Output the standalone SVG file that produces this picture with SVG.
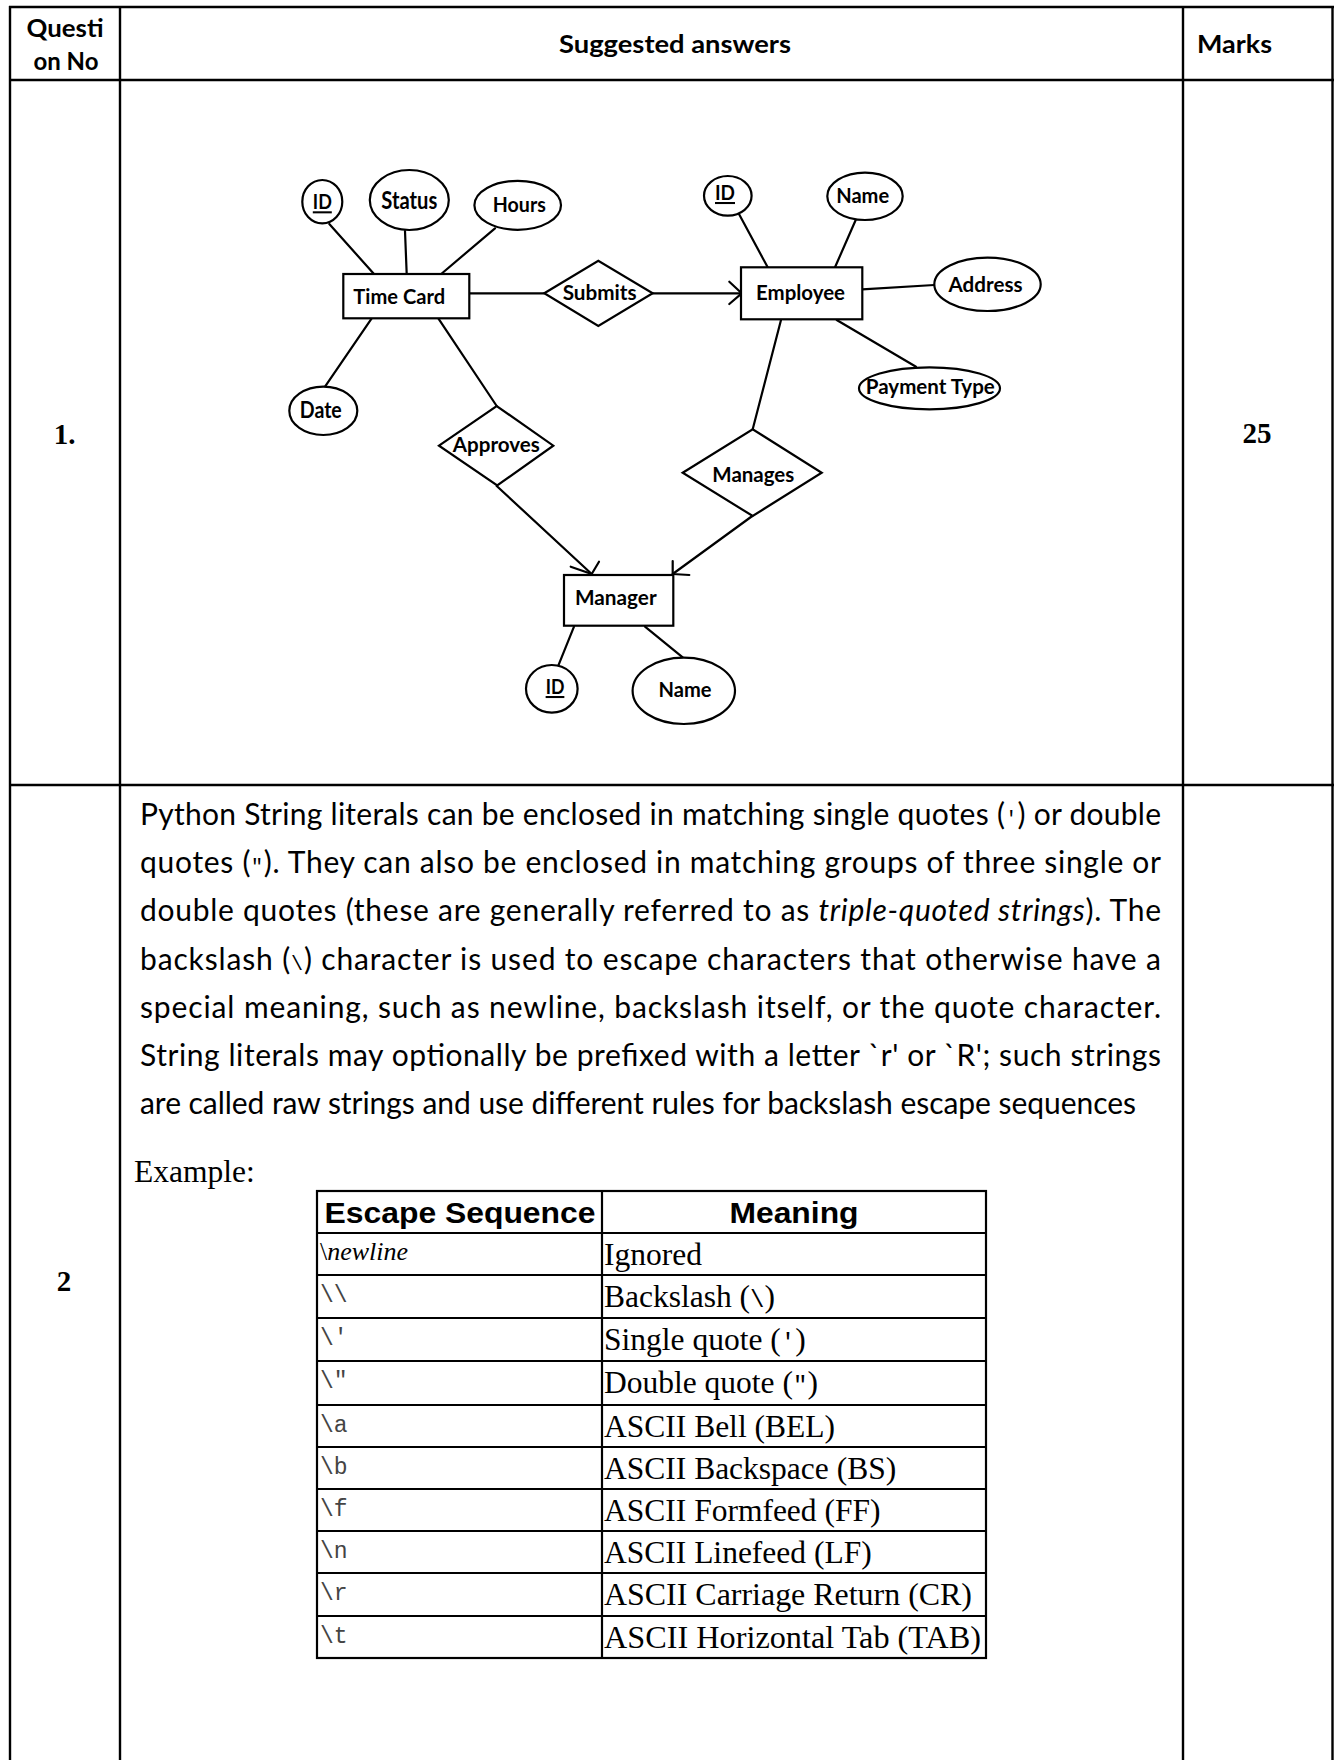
<svg xmlns="http://www.w3.org/2000/svg" width="1334" height="1760" viewBox="0 0 1334 1760">
<style>
.grid{stroke:#000;stroke-width:2.4;fill:none}
.hdr{font-family:Lato,"Open Sans","Liberation Sans",sans-serif;font-weight:700;font-size:24.5px;fill:#000}
.num{font-family:"Liberation Serif","Times New Roman",serif;font-weight:700;font-size:29px;fill:#000;text-anchor:middle}
.shape{fill:#fff;stroke:#000;stroke-width:2.2}
.lbl{font-family:Lato,"Open Sans","Liberation Sans",sans-serif;font-weight:700;font-size:20.5px;fill:#000;text-anchor:middle}
.conn{stroke:#000;stroke-width:2.2;fill:none;stroke-linecap:round;stroke-linejoin:round}
.para{font-family:Lato,"Open Sans","Liberation Sans",sans-serif;font-size:30px;fill:#000}
.q{font-family:"Liberation Mono",monospace;font-size:20px}
.tb{font-family:"Liberation Serif","Times New Roman",serif;font-size:31.5px;fill:#000}
.th{font-family:"Liberation Sans",Arial,sans-serif;font-weight:700;font-size:30px;fill:#000}
.mono{font-family:"Liberation Mono","Courier New",monospace;font-size:23px;fill:#444}
.tl{stroke:#000;stroke-width:2.2;fill:none}
</style>
<rect x="0" y="0" width="1334" height="1760" fill="#fff"/>

<g id="page-grid" class="grid">
  <line x1="9" y1="7" x2="1334" y2="7"/>
  <line x1="9" y1="80" x2="1334" y2="80"/>
  <line x1="9" y1="785" x2="1334" y2="785"/>
  <line x1="10" y1="6" x2="10" y2="1760"/>
  <line x1="120" y1="6" x2="120" y2="1760"/>
  <line x1="1183" y1="6" x2="1183" y2="1760"/>
  <line x1="1332.5" y1="6" x2="1332.5" y2="1760"/>
</g>

<g id="headers">
  <text class="hdr" x="65" y="37" text-anchor="middle" textLength="77" lengthAdjust="spacingAndGlyphs">Questi</text>
  <text class="hdr" x="66" y="70" text-anchor="middle" textLength="65" lengthAdjust="spacingAndGlyphs">on No</text>
  <text class="hdr" x="675" y="53" text-anchor="middle" textLength="232" lengthAdjust="spacingAndGlyphs">Suggested answers</text>
  <text class="hdr" x="1197" y="53" textLength="75" lengthAdjust="spacingAndGlyphs">Marks</text>
  <text class="num" x="64.5" y="444">1.</text>
  <text class="num" x="1257" y="443">25</text>
  <text class="num" x="64" y="1291">2</text>
</g>

<g id="connectors">
  <line class="conn" x1="329.3" y1="224" x2="374" y2="274"/>
  <line class="conn" x1="405" y1="231" x2="406.7" y2="274"/>
  <line class="conn" x1="495" y1="228.3" x2="440" y2="275"/>
  <line class="conn" x1="371.7" y1="318.3" x2="325" y2="386.7"/>
  <line class="conn" x1="469.3" y1="293.3" x2="544.3" y2="293.3"/>
  <line class="conn" x1="652.7" y1="293.3" x2="741.7" y2="293.3"/>
  <polyline class="conn" points="729.3,281.7 741.7,293.3 729.3,304"/>
  <line class="conn" x1="438.3" y1="318.3" x2="496.7" y2="406"/>
  <line class="conn" x1="496.7" y1="486" x2="591.7" y2="574"/>
  <polyline class="conn" points="570.7,566.7 591.7,574 599,561.7"/>
  <line class="conn" x1="738.3" y1="212.7" x2="767.7" y2="267.3"/>
  <line class="conn" x1="855.7" y1="220" x2="835" y2="267.3"/>
  <line class="conn" x1="862.3" y1="289.3" x2="934.3" y2="285"/>
  <line class="conn" x1="836.7" y1="320" x2="916" y2="366.7"/>
  <line class="conn" x1="781" y1="320" x2="752.7" y2="429.3"/>
  <line class="conn" x1="752.3" y1="516" x2="672.7" y2="574"/>
  <polyline class="conn" points="672.7,561 672.7,574 689.3,575"/>
  <line class="conn" x1="574" y1="626.7" x2="558.3" y2="665.7"/>
  <line class="conn" x1="645" y1="626.7" x2="682.7" y2="657.3"/>
</g>

<g id="tc-id"><ellipse class="shape" cx="322.3" cy="201.7" rx="20" ry="21.7"/><text class="lbl" x="322.3" y="209.3" text-decoration="underline" textLength="19" lengthAdjust="spacingAndGlyphs">ID</text></g>
<g id="tc-status"><ellipse class="shape" cx="409.3" cy="200" rx="39.5" ry="30"/><text class="lbl" x="409.3" y="209.3" style="font-size:24.5px" textLength="56" lengthAdjust="spacingAndGlyphs">Status</text></g>
<g id="tc-hours"><ellipse class="shape" cx="517.7" cy="205.3" rx="43.3" ry="24.5"/><text class="lbl" x="519.3" y="212.3" textLength="53" lengthAdjust="spacingAndGlyphs">Hours</text></g>
<g id="time-card"><rect class="shape" x="343.3" y="274" width="126" height="44.3"/><text class="lbl" x="399.2" y="304" textLength="91.7" lengthAdjust="spacingAndGlyphs">Time Card</text></g>
<g id="tc-date"><ellipse class="shape" cx="323.3" cy="410.8" rx="34" ry="24.2"/><text class="lbl" x="320.8" y="418.3" style="font-size:22.5px" textLength="42" lengthAdjust="spacingAndGlyphs">Date</text></g>
<g id="submits"><polygon class="shape" points="544.3,293.3 598.3,260.7 652.7,293.3 598.3,326"/><text class="lbl" x="599.7" y="300" textLength="74" lengthAdjust="spacingAndGlyphs">Submits</text></g>
<g id="approves"><polygon class="shape" points="439,445.7 496.7,406 553.3,445.7 497.2,485.5"/><text class="lbl" x="496.3" y="451.7" textLength="87" lengthAdjust="spacingAndGlyphs">Approves</text></g>
<g id="employee"><rect class="shape" x="741" y="267.3" width="121.3" height="52"/><text class="lbl" x="800.5" y="300" textLength="89" lengthAdjust="spacingAndGlyphs">Employee</text></g>
<g id="emp-id"><ellipse class="shape" cx="727.8" cy="195.8" rx="23.8" ry="19.8"/><text class="lbl" x="725" y="200" text-decoration="underline" textLength="20" lengthAdjust="spacingAndGlyphs">ID</text></g>
<g id="emp-name"><ellipse class="shape" cx="865" cy="196.3" rx="37.7" ry="23.7"/><text class="lbl" x="862.7" y="203.3" textLength="53" lengthAdjust="spacingAndGlyphs">Name</text></g>
<g id="emp-address"><ellipse class="shape" cx="987.5" cy="284.3" rx="53.2" ry="26.7"/><text class="lbl" x="985.5" y="291.7" textLength="74" lengthAdjust="spacingAndGlyphs">Address</text></g>
<g id="emp-payment"><ellipse class="shape" cx="929.5" cy="388.3" rx="70.5" ry="21"/><text class="lbl" x="930.3" y="394.3" textLength="129" lengthAdjust="spacingAndGlyphs">Payment Type</text></g>
<g id="manages"><polygon class="shape" points="682.7,472.7 752.7,429.3 821.7,472.7 752.7,516"/><text class="lbl" x="753.3" y="481.7" textLength="82" lengthAdjust="spacingAndGlyphs">Manages</text></g>
<g id="manager"><rect class="shape" x="564" y="575" width="109.3" height="50.7"/><text class="lbl" x="615.8" y="605" textLength="81.7" lengthAdjust="spacingAndGlyphs">Manager</text></g>
<g id="mgr-id"><ellipse class="shape" cx="551.8" cy="688.8" rx="25.8" ry="23.8"/><text class="lbl" x="555" y="694" text-decoration="underline" textLength="18.7" lengthAdjust="spacingAndGlyphs">ID</text></g>
<g id="mgr-name"><ellipse class="shape" cx="683.8" cy="690.8" rx="51.2" ry="33.2"/><text class="lbl" x="685" y="697.3" textLength="53" lengthAdjust="spacingAndGlyphs">Name</text></g>

<g id="paragraph" class="para">
  <text x="140" y="825" textLength="1021" lengthAdjust="spacing">Python String literals can be enclosed in matching single quotes (<tspan class="q">'</tspan>) or double</text>
  <text x="140" y="873.2" textLength="1021" lengthAdjust="spacing">quotes (<tspan class="q">"</tspan>). They can also be enclosed in matching groups of three single or</text>
  <text x="140" y="921.4" textLength="1021" lengthAdjust="spacing">double quotes (these are generally referred to as <tspan font-style="italic">triple-quoted strings</tspan>). The</text>
  <text x="140" y="969.6" textLength="1021" lengthAdjust="spacing">backslash (<tspan class="q">\</tspan>) character is used to escape characters that otherwise have a</text>
  <text x="140" y="1017.8" textLength="1021" lengthAdjust="spacing">special meaning, such as newline, backslash itself, or the quote character.</text>
  <text x="140" y="1066" textLength="1021" lengthAdjust="spacing">String literals may optionally be prefixed with a letter `r' or `R'; such strings</text>
  <text x="140" y="1114.2" textLength="996" lengthAdjust="spacing">are called raw strings and use different rules for backslash escape sequences</text>
</g>

<text class="tb" x="134" y="1182">Example:</text>

<g id="escape-table">
  <rect class="tl" x="317" y="1191" width="669" height="467"/>
  <line class="tl" x1="602" y1="1191" x2="602" y2="1658"/>
  <line class="tl" x1="317" y1="1233" x2="986" y2="1233"/>
  <line class="tl" x1="317" y1="1275" x2="986" y2="1275"/>
  <line class="tl" x1="317" y1="1318" x2="986" y2="1318"/>
  <line class="tl" x1="317" y1="1361" x2="986" y2="1361"/>
  <line class="tl" x1="317" y1="1405" x2="986" y2="1405"/>
  <line class="tl" x1="317" y1="1447" x2="986" y2="1447"/>
  <line class="tl" x1="317" y1="1489" x2="986" y2="1489"/>
  <line class="tl" x1="317" y1="1531" x2="986" y2="1531"/>
  <line class="tl" x1="317" y1="1573" x2="986" y2="1573"/>
  <line class="tl" x1="317" y1="1616" x2="986" y2="1616"/>
  <text class="th" x="324.5" y="1223" textLength="271" lengthAdjust="spacingAndGlyphs">Escape Sequence</text>
  <text class="th" x="794" y="1223" text-anchor="middle" textLength="129" lengthAdjust="spacingAndGlyphs">Meaning</text>
  <text class="tb" x="320" y="1260" style="font-size:26px">\<tspan font-style="italic">newline</tspan></text>
  <text class="mono" x="320" y="1302">\\</text>
  <text class="mono" x="320" y="1345">\'</text>
  <text class="mono" x="320" y="1388">\"</text>
  <text class="mono" x="320" y="1432">\a</text>
  <text class="mono" x="320" y="1474">\b</text>
  <text class="mono" x="320" y="1516">\f</text>
  <text class="mono" x="320" y="1558">\n</text>
  <text class="mono" x="320" y="1600">\r</text>
  <text class="mono" x="320" y="1643">\t</text>
  <text class="tb" x="604" y="1265">Ignored</text>
  <text class="tb" x="604" y="1307">Backslash (<tspan class="q" style="font-size:24px">\</tspan>)</text>
  <text class="tb" x="604" y="1350">Single quote (<tspan class="q" style="font-size:24px">'</tspan>)</text>
  <text class="tb" x="604" y="1393">Double quote (<tspan class="q" style="font-size:24px">"</tspan>)</text>
  <text class="tb" x="604" y="1437">ASCII Bell (BEL)</text>
  <text class="tb" x="604" y="1479">ASCII Backspace (BS)</text>
  <text class="tb" x="604" y="1521">ASCII Formfeed (FF)</text>
  <text class="tb" x="604" y="1563">ASCII Linefeed (LF)</text>
  <text class="tb" x="604" y="1605" textLength="368" lengthAdjust="spacingAndGlyphs">ASCII Carriage Return (CR)</text>
  <text class="tb" x="604" y="1648" textLength="377" lengthAdjust="spacingAndGlyphs">ASCII Horizontal Tab (TAB)</text>
</g>
</svg>
